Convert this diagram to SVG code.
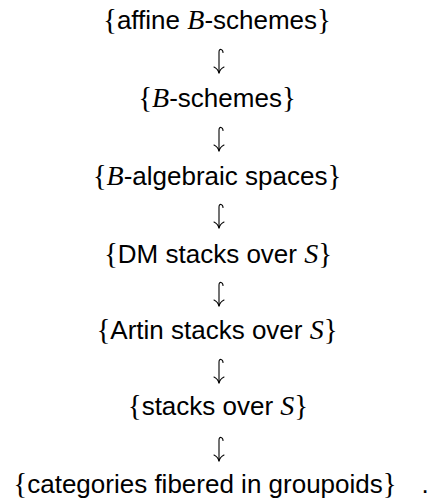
<svg xmlns="http://www.w3.org/2000/svg" width="432" height="499" viewBox="0 0 432 499">
<style>
.t{font-family:"Liberation Sans",Arial,sans-serif;font-size:26px;fill:#000;text-anchor:middle}
.m{font-family:"Liberation Serif","Times New Roman",serif;font-style:italic;font-size:28px}
.b{font-family:"Liberation Serif","Times New Roman",serif;font-style:normal;font-size:29px}
.arr{fill:none;stroke:#000;stroke-width:1.1;stroke-linecap:round}
</style>
<defs>
<g id="hookdown">
<path class="arr" d="M4,3.5 C4,0 0,-1 0,3 L0,24"/>
<path class="arr" d="M-5,18 Q-1,20 0,24 Q1,20 5,18"/>
</g>
</defs>
<rect width="432" height="499" fill="#fff"/>
<g id="n1"><text class="t" x="217" y="29"><tspan class="b">{</tspan>affine <tspan class="m">B</tspan>-schemes<tspan class="b">}</tspan></text></g>
<g id="n2"><text class="t" x="217" y="107"><tspan class="b">{</tspan><tspan class="m">B</tspan>-schemes<tspan class="b">}</tspan></text></g>
<g id="n3"><text class="t" x="217" y="185"><tspan class="b">{</tspan><tspan class="m">B</tspan>-algebraic spaces<tspan class="b">}</tspan></text></g>
<g id="n4"><text class="t" x="218" y="263"><tspan class="b">{</tspan>DM stacks over <tspan class="m">S</tspan><tspan class="b">}</tspan></text></g>
<g id="n5"><text class="t" x="217" y="339"><tspan class="b">{</tspan>Artin stacks over <tspan class="m">S</tspan><tspan class="b">}</tspan></text></g>
<g id="n6"><text class="t" x="218" y="415"><tspan class="b">{</tspan>stacks over <tspan class="m">S</tspan><tspan class="b">}</tspan></text></g>
<g id="n7"><text class="t" x="205" y="493"><tspan class="b">{</tspan>categories fibered in groupoids<tspan class="b">}</tspan></text><text class="t" x="425" y="493">.</text></g>
<g id="connectors">
<use href="#hookdown" x="219" y="49"/>
<use href="#hookdown" x="219" y="127"/>
<use href="#hookdown" x="219" y="204"/>
<use href="#hookdown" x="219" y="282"/>
<use href="#hookdown" x="219" y="359"/>
<use href="#hookdown" x="219" y="437"/>
</g>
</svg>
